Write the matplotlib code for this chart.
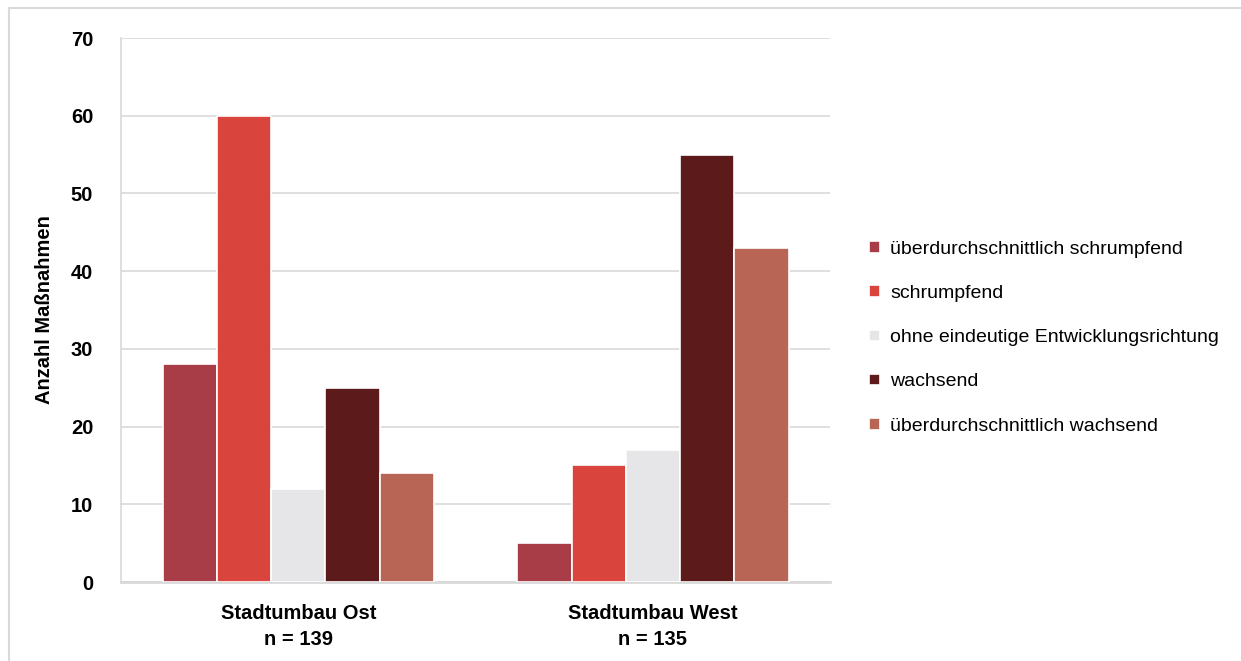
import matplotlib
matplotlib.use('Agg')
import matplotlib.pyplot as plt
import numpy as np
from matplotlib.patches import Rectangle

# data
groups = ['Stadtumbau Ost\nn = 139', 'Stadtumbau West\nn = 135']
series = ['überdurchschnittlich schrumpfend', 'schrumpfend',
          'ohne eindeutige Entwicklungsrichtung', 'wachsend',
          'überdurchschnittlich wachsend']
values = {
    'überdurchschnittlich schrumpfend': [28, 5],
    'schrumpfend': [60, 15],
    'ohne eindeutige Entwicklungsrichtung': [12, 17],
    'wachsend': [25, 55],
    'überdurchschnittlich wachsend': [14, 43],
}
colors = ['#A83C47', '#D9443D', '#E6E6E8', '#5C1A1A', '#B86555']

plt.rcParams['font.family'] = ['Liberation Sans Narrow', 'Liberation Sans', 'DejaVu Sans']

fig = plt.figure(figsize=(12.41, 6.61), dpi=100)
ax = fig.add_axes([0.0975, 0.1195, 0.5715, 0.823])

# light outer frame (right/bottom edges fall outside the image)
fig.patches.append(Rectangle((0.007, -0.05), 1.1, 1.038, transform=fig.transFigure,
                             fill=False, edgecolor='#D9D9D9', linewidth=1.5))

x = np.arange(len(groups))
width = 0.153
for i, name in enumerate(series):
    pos = x + (i - 2) * width
    ax.bar(pos, values[name], width=width, color=colors[i], edgecolor='white',
           linewidth=1.2, label=name, zorder=3)

ax.set_xlim(-0.5, 1.5)
ax.set_ylim(0, 70)
ax.set_yticks(range(0, 71, 10))
ax.yaxis.grid(True, color='#D9D9D9', linewidth=1.2, zorder=0)
ax.set_xticks(x)
ax.set_xticklabels(groups, fontsize=14.5, fontweight='bold', linespacing=1.45)
ax.tick_params(axis='y', labelsize=14.5, length=0, pad=20)
ax.tick_params(axis='x', length=0, pad=16)
for lab in ax.get_yticklabels():
    lab.set_fontweight('bold')
for s in ['top', 'right']:
    ax.spines[s].set_visible(False)
ax.spines['left'].set_color('#D9D9D9')
ax.spines['bottom'].set_color('#D9D9D9')
ax.spines['bottom'].set_linewidth(2)
ax.spines['left'].set_linewidth(1.2)

ax.set_ylabel('Anzahl Maßnahmen', fontsize=14.5, fontweight='bold', labelpad=12)

ax.legend(loc='center left', bbox_to_anchor=(1.03, 0.449), frameon=False,
          fontsize=14, handlelength=0.55, handleheight=0.55, handletextpad=0.55,
          labelspacing=1.4)

fig.savefig('out.png', dpi=100)
